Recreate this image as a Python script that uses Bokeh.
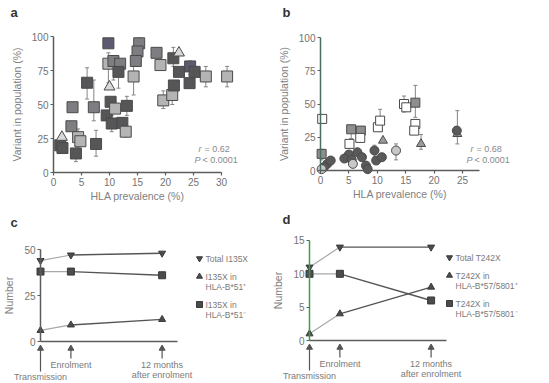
from bokeh.plotting import figure
from bokeh.layouts import row, column
from bokeh.models import ColumnDataSource, Label, FixedTicker, Whisker, TeeHead
from bokeh.embed import file_html
from bokeh.resources import INLINE
from bokeh.core.properties import value

# ---------------- data ----------------
# panel a : HLA prevalence (%) vs variant in population (%)
a_x = [1.2, 1.6, 1.5, 3.4, 3.2, 4.0, 4.4, 4.8, 6.0, 7.6, 7.2, 9.8, 9.8, 10.7, 11.9, 11.6, 10.0, 10.2, 9.5, 10.4,
       11.0, 13.1, 12.3, 12.9, 14.3, 15.3, 15.0, 14.7, 18.4, 19.1, 19.6, 21.2, 21.4, 22.4, 22.4, 21.5, 24.4, 25.2,
       24.3, 27.2, 31.0]
a_y = [20, 18, 26, 48, 34, 14, 26, 23, 66, 21, 48, 95, 80, 82, 80, 74, 63, 52, 42, 36,
       47, 49, 36.5, 30, 70.6, 95, 89, 82, 88, 79, 53, 57, 84, 88, 74, 64, 78, 74,
       65.7, 70.6, 70.6]
a_group = ["dark", "dark", "tri", "mid", "mid", "dark", "light", "light", "dark", "dark",
           "mid", "purple", "light", "mid", "mid", "dark", "tri", "dark", "dark", "dark",
           "light", "dark", "dark", "light", "light", "mid", "mid", "mid", "mid", "light",
           "light", "light", "dark", "tri", "dark", "dark", "purple", "dark", "dark", "light", "light"]
a_err_x = [1.2, 4.0, 4.4, 6.0, 7.6, 7.2, 9.8, 10.7, 11.6, 10.4, 13.1, 14.3, 15.3, 19.6, 21.2, 21.4, 27.2, 31.0, 12.9, 24.4]
a_err_lo = [14, 8, 18, 54, 12, 38, 66, 68, 62, 30, 42, 57, 85, 47, 50, 78, 63, 63, 26, 72]
a_err_hi = [25, 20, 32, 77, 31, 68, 88, 86, 80, 42, 56, 79, 99, 60, 62, 92, 78, 78, 36, 82]
a_xticks = [0, 5, 10, 15, 20, 25, 30]
a_yticks = [0, 25, 50, 75, 100]
a_r, a_p = "0.62", "< 0.0001"

# panel b
b_x = [0.3, 0.2, 1.2, 1.8, 0.6, 0.2, 5.4, 5.1, 5.0, 4.2, 5.5, 5.7, 7.1, 7.0, 6.5, 7.3, 8.0, 8.3, 9.8, 9.5,
       10.1, 10.5, 11.0, 10.8, 13.3, 14.7, 15.1, 16.7, 16.7, 16.5, 17.7, 24.1, 24.0]
b_y = [38.8, 12.5, 5, 7.5, 2.5, 1, 31, 20, 12, 9, 8, 5, 30, 24.5, 13.7, 10, 3.7, 1, 7.5, 15,
       32.5, 37.5, 22.5, 10, 15, 50, 47.5, 51, 35, 30, 20, 27.5, 30]
b_group = ["white", "grey", "circle", "circle", "circle", "lcircle", "grey", "white", "circle", "circle",
           "circle", "lcircle", "grey", "white", "circle", "circle", "circle", "circle", "circle", "circle",
           "white", "white", "tri", "circle", "lcircle", "white", "white", "grey", "white", "white",
           "tri", "tri", "circle"]
b_err_x = [10.5, 14.7, 16.7, 24.1, 13.3, 17.7, 0.2, 5.4, 9.5]
b_err_lo = [30, 44, 40, 20, 8, 16, 8, 24, 10]
b_err_hi = [46, 56, 64, 45, 20, 27, 16, 34, 19]
b_xticks = [0, 5, 10, 15, 20, 25]
b_yticks = [0, 25, 50, 75, 100]
b_r, b_p = "0.68", "< 0.0001"

# panels c and d : time points (months since transmission)
times = [0, 4, 16]
event_lines = [["Transmission"], ["Enrolment"], ["12 months", "after enrolment"]]
c_total = [44, 47, 48]
c_pos = [6, 9, 12]
c_neg = [38, 38, 36]
c_labels = [["Total I135X"], ["I135X in", "HLA-B*51\u207a"], ["I135X in", "HLA-B*51\u207b"]]
c_yticks = [0, 25, 50]
d_total = [11, 14, 14]
d_pos = [1, 4, 8]
d_neg = [10, 10, 6]
d_labels = [["Total T242X"], ["T242X in", "HLA-B*57/5801\u207a"], ["T242X in", "HLA-B*57/5801\u207b"]]
d_yticks = [0, 5, 10, 15]

# ---------------- style ----------------
FONT = "Liberation Sans"
TXT = "#737373"
AX = "#5c5c5c"


class Geo:
    """figure placed at page (fx, fy) with size w x h; data origin at page (ox, oy)."""
    def __init__(self, fx, fy, w, h, ox, sx, oy, sy):
        self.fx, self.fy, self.w, self.h = fx, fy, w, h
        self.ox, self.sx, self.oy, self.sy = ox, sx, oy, sy

    def dx(self, px):
        return (px - self.ox) / self.sx

    def dy(self, py):
        return (self.oy - py) / self.sy


def make_fig(g, xb, yb, xticks, yticks, xlabel, ylabel, ycolor=AX):
    p = figure(width=g.w, height=g.h,
               x_range=(g.dx(g.fx), g.dx(g.fx + g.w)), y_range=(g.dy(g.fy + g.h), g.dy(g.fy)),
               output_backend="svg", toolbar_location=None, min_border=0)
    p.outline_line_color = None
    p.grid.visible = False
    p.xaxis.fixed_location = 0
    p.yaxis.fixed_location = 0
    p.xaxis.bounds = xb
    p.yaxis.bounds = yb
    p.xaxis.ticker = FixedTicker(ticks=xticks)
    p.yaxis.ticker = FixedTicker(ticks=yticks)
    if xlabel:
        p.xaxis.axis_label = xlabel
    if ylabel:
        p.yaxis.axis_label = ylabel
    for ax in (p.xaxis[0], p.yaxis[0]):
        ax.axis_line_color = AX
        ax.axis_line_width = 1.5
        ax.major_tick_line_color = AX
        ax.major_tick_line_width = 1.2
        ax.major_tick_out = 3
        ax.major_tick_in = 0
        ax.minor_tick_line_color = None
        ax.major_label_text_font = FONT
        ax.major_label_text_font_size = "10px"
        ax.major_label_text_color = TXT
        ax.axis_label_text_font = FONT
        ax.axis_label_text_font_size = "10.5px"
        ax.axis_label_text_color = "#808080"
        ax.axis_label_text_font_style = "normal"
        ax.major_label_standoff = 2
        ax.axis_label_standoff = 1
    p.yaxis[0].axis_line_color = ycolor
    p.yaxis[0].axis_label_standoff = 6
    return p


def panel_letter(p, g, txt, px, py):
    p.add_layout(Label(x=g.dx(px), y=g.dy(py), text=txt, text_font=FONT, text_font_size="13px",
                       text_font_style="bold", text_color="#333333", text_baseline="middle", text_align="left"))


def stats(p, g, r, pv, px, py):
    kw = dict(text_font=FONT, text_font_size="9px", text_color="#8a8a8a", text_baseline="middle")
    p.add_layout(Label(x=g.dx(px), y=g.dy(py), text="r", text_font_style="italic", **kw))
    p.add_layout(Label(x=g.dx(px + 6), y=g.dy(py), text="= " + r, **kw))
    p.add_layout(Label(x=g.dx(px - 4), y=g.dy(py + 11), text="P", text_font_style="italic", **kw))
    p.add_layout(Label(x=g.dx(px + 4), y=g.dy(py + 11), text=pv, **kw))


def whiskers(p, xs, lo, hi):
    src = ColumnDataSource(dict(x=xs, lo=lo, hi=hi))
    p.add_layout(Whisker(source=src, base="x", lower="lo", upper="hi", line_color="#858585", line_width=1,
                         upper_head=TeeHead(size=4, line_color="#858585"),
                         lower_head=TeeHead(size=4, line_color="#858585")))


TOP_H = 206
BOT_H = 382 - TOP_H

# ---------------- panel a ----------------
ga = Geo(0, 0, 270, TOP_H, 53, 5.6, 172, 1.36)
pa = make_fig(ga, (0, 30), (0, 100), a_xticks, a_yticks, "HLA prevalence (%)", "Variant in population (%)")
whiskers(pa, a_err_x, a_err_lo, a_err_hi)
a_fill = {"dark": "#565659", "mid": "#7e7e82", "light": "#b4b4b4", "purple": "#5d5a70", "tri": "#d8d8d8"}
a_mark = {"dark": "square", "mid": "square", "light": "square", "purple": "square", "tri": "triangle"}
src_a = ColumnDataSource(dict(x=a_x, y=a_y, fill=[a_fill[g] for g in a_group],
                              marker=[a_mark[g] for g in a_group]))
pa.scatter(x="x", y="y", marker="marker", size=11, fill_color="fill", line_color="#4a4a4a",
           line_width=1, source=src_a)
panel_letter(pa, ga, "a", 10, 12)
stats(pa, ga, a_r, a_p, 198, 148)

# ---------------- panel b ----------------
gb = Geo(270, 0, 278, TOP_H, 320, 5.68, 170, 1.33)
pb = make_fig(gb, (0, 28), (0, 100), b_xticks, b_yticks, "HLA prevalence (%)", "Variant in population (%)",
              ycolor="#4d6d60")
whiskers(pb, b_err_x, b_err_lo, b_err_hi)
b_fill = {"white": "#ffffff", "grey": "#8e8e8e", "circle": "#5a5a5a", "lcircle": "#c8c8c8", "tri": "#9a9a9a"}
b_mark = {"white": "square", "grey": "square", "circle": "circle", "lcircle": "circle", "tri": "triangle"}
src_b = ColumnDataSource(dict(x=b_x, y=b_y, fill=[b_fill[g] for g in b_group],
                              marker=[b_mark[g] for g in b_group]))
pb.scatter(x="x", y="y", marker="marker", size=9, fill_color="fill", line_color="#4a4a4a",
           line_width=1, source=src_b)
panel_letter(pb, gb, "b", 282, 12)
stats(pb, gb, b_r, b_p, 470, 148)


# ---------------- panels c, d ----------------
def time_panel(g, total, pos, neg, labels, yticks, ymax, legend_px, ycolor=AX):
    p = make_fig(g, (0, 18), (0, ymax), [], yticks, None, "Number", ycolor=ycolor)
    p.xaxis[0].major_label_text_font_size = "0px"
    series = [(total, "inverted_triangle"), (pos, "triangle"), (neg, "square")]
    for vals, mk in series:
        p.line(times[:2], vals[:2], line_color="#a8a8a8", line_width=1.2)
        p.line(times[1:], vals[1:], line_color="#555555", line_width=1.4)
        p.scatter(times, vals, marker=mk, size=7, fill_color="#4c4c4c", line_color="#3a3a3a")
    # event arrows below the time axis
    tip = [g.dy(g.oy + 7)] * len(times)
    tails = [g.dy(g.oy + 30) if t == times[0] else g.dy(g.oy + 17) for t in times]
    p.segment(times, tip, times, tails, line_color="#555555", line_width=1.2)
    p.scatter(times, tip, marker="triangle", size=6, fill_color="#555555", line_color="#555555")
    tx, ty, tt = [], [], []
    for t, lines in zip(times, event_lines):
        base = g.oy + (35 if t == times[0] else 23)
        for k, s in enumerate(lines):
            tx.append(t)
            ty.append(g.dy(base + 10 * k))
            tt.append(s)
    p.text(tx, ty, text=tt, text_font=value(FONT), text_font_size="9px", text_color="#7a7a7a",
           text_align="center", text_baseline="middle")
    # legend (manual, to keep two-line labels)
    lx, ly0 = legend_px
    mx, my, mm, lxs, lys, lts = [], [], [], [], [], []
    rows = [0, 18, 46]
    for (vals, mk), lab, r in zip(series, labels, rows):
        mx.append(g.dx(lx))
        my.append(g.dy(ly0 + r))
        mm.append(mk)
        for k, s in enumerate(lab):
            lxs.append(g.dx(lx + 6))
            lys.append(g.dy(ly0 + r + 10 * k))
            lts.append(s)
    p.scatter(mx, my, marker=mm, size=6, fill_color="#4c4c4c", line_color="#3a3a3a")
    p.text(lxs, lys, text=lts, text_font=value(FONT), text_font_size="8.5px", text_color="#7a7a7a",
           text_align="left", text_baseline="middle")
    return p


gc = Geo(0, TOP_H, 270, BOT_H, 40, 7.6, 341, 1.84)
pc = time_panel(gc, c_total, c_pos, c_neg, c_labels, c_yticks, 50, (199, 258))
panel_letter(pc, gc, "c", 10, 222)

gd = Geo(270, TOP_H, 278, BOT_H, 309, 7.6, 340, 6.67)
pd_ = time_panel(gd, d_total, d_pos, d_neg, d_labels, d_yticks, 15, (449, 257), ycolor="#3f9a4c")
panel_letter(pd_, gd, "d", 282, 219)

layout = column(row(pa, pb), row(pc, pd_))
open("out.html", "w").write(file_html(layout, INLINE))
